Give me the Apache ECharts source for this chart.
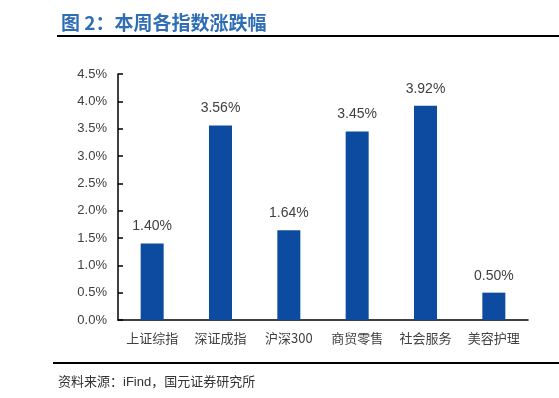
<!DOCTYPE html>
<html>
<head>
<meta charset="utf-8">
<script src="https://cdn.jsdelivr.net/npm/echarts@6/dist/echarts.min.js"></script>
<style>
html, body { margin: 0; padding: 0; background: #fff; }
#chart { width: 559px; height: 398px; }
</style>
</head>
<body>
<div id="chart"></div>
<script>
const categories = ["上证综指", "深证成指", "沪深300", "商贸零售", "社会服务", "美容护理"];
const changes = [1.40, 3.56, 1.64, 3.45, 3.92, 0.50];
const yTicks = [0, 0.5, 1.0, 1.5, 2.0, 2.5, 3.0, 3.5, 4.0, 4.5];

const FONT = "'Liberation Sans', Arial, 'Noto Sans CJK SC', sans-serif";
const chart = echarts.init(document.getElementById("chart"));

chart.setOption({
	animation: false,
	textStyle: { fontFamily: FONT },
	title: [
		{
			text: "图 2：本周各指数涨跌幅",
			left: 56, top: 8,
			textStyle: { color: "#2f6db5", fontSize: 19, fontWeight: "bold", fontFamily: "'Noto Sans CJK SC', sans-serif" },
		},
		{
			text: "资料来源：iFind，国元证券研究所",
			left: 53, top: 371,
			textStyle: { color: "#333", fontSize: 13, fontWeight: "normal", fontFamily: FONT },
		},
	],
	graphic: [
		{ type: "line", shape: { x1: 57, y1: 36, x2: 559, y2: 36 }, style: { stroke: "#000", lineWidth: 2 } },
		{ type: "line", shape: { x1: 53, y1: 363, x2: 559, y2: 363 }, style: { stroke: "#000", lineWidth: 2 } },
	],
	grid: { left: 118, right: 31, top: 74, bottom: 78, containLabel: false },
	xAxis: {
		type: "category",
		data: categories,
		axisLine: { lineStyle: { color: "#000", width: 1.5 } },
		axisTick: { inside: true, length: 5, lineStyle: { color: "#000", width: 1.5 } },
		axisLabel: { color: "#404040", fontSize: 13, margin: 12, fontFamily: "'Noto Sans CJK SC', sans-serif" },
	},
	yAxis: {
		type: "value",
		min: 0, max: yTicks[yTicks.length - 1], interval: 0.5,
		axisLine: { show: true, lineStyle: { color: "#000", width: 1.5 } },
		axisTick: { show: true, inside: true, length: 5, lineStyle: { color: "#000", width: 1.5 } },
		splitLine: { show: false },
		axisLabel: {
			color: "#404040", fontSize: 13, margin: 11,
			formatter: (v) => v.toFixed(1) + "%",
		},
	},
	series: [
		{
			type: "bar",
			data: changes,
			barWidth: 23,
			itemStyle: { color: "#0d4ba0" },
			label: {
				show: true, position: "top", distance: 10,
				color: "#404040", fontSize: 14,
				formatter: (p) => p.value.toFixed(2) + "%",
			},
		},
	],
});
</script>
</body>
</html>
